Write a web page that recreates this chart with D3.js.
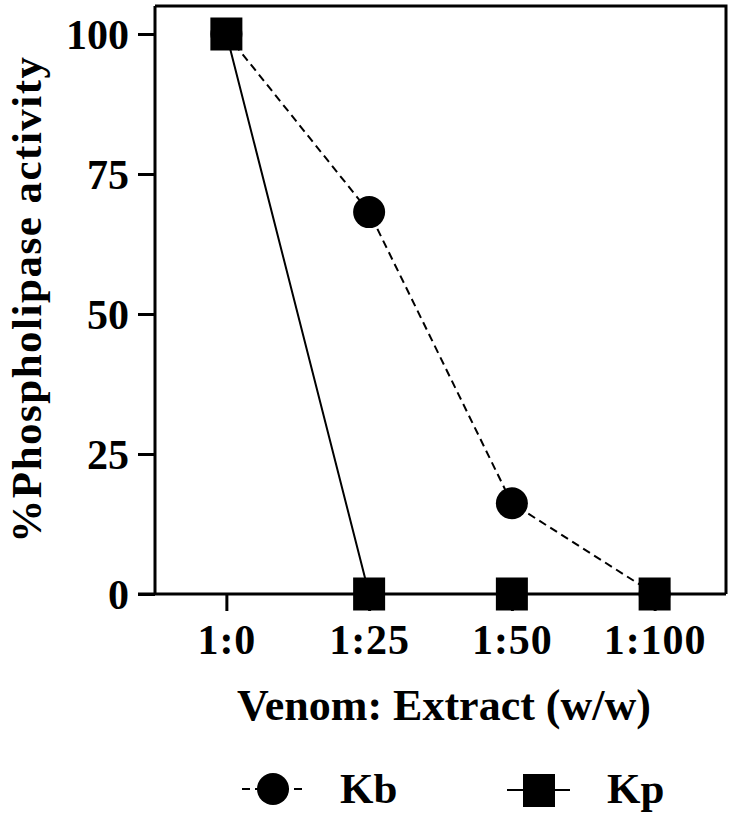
<!DOCTYPE html>
<html lang="en">
  <head>
    <meta charset="utf-8">
    <title>Phospholipase activity</title>
    <style>
      body { margin: 0; background: #fff; }
      text { font-family: "Liberation Serif", "Times New Roman", serif; font-weight: bold; fill: #000; }
    </style>
  </head>
  <body>
    <div id="chart"></div>
    <script src="https://cdn.jsdelivr.net/npm/d3@7"></script>
    <script type="text/javascript">
    (function(d3) {
      'use strict';

      var ratios = ['1:0', '1:25', '1:50', '1:100'];
      var kbValues = [100, 68.2, 16.2, 0];
      var kpValues = [100, 0, 0, 0];
      var yTicks = [0, 25, 50, 75, 100];

      var width = 733;
      var height = 821;
      var left = 155, right = 726, top = 6, bottom = 594;

      var svg = d3.select('#chart')
        .append('svg')
        .attr('width', width)
        .attr('height', height);

      var x = d3.scalePoint()
        .domain(ratios)
        .range([left, right])
        .padding(0.5);

      var y = d3.scaleLinear()
        .domain([0, 105])
        .range([bottom, top]);

      // frame (top and right sides)
      svg.append('path')
        .attr('d', 'M' + left + ',' + top + 'H' + right + 'V' + bottom)
        .attr('fill', 'none')
        .attr('stroke', '#000')
        .attr('stroke-width', 3);

      var yAxis = svg.append('g')
        .attr('transform', 'translate(' + left + ',0)')
        .call(d3.axisLeft(y).tickValues(yTicks).tickSize(17).tickPadding(9).tickSizeOuter(0));

      var xAxis = svg.append('g')
        .attr('transform', 'translate(0,' + bottom + ')')
        .call(d3.axisBottom(x).tickSize(17).tickPadding(13).tickSizeOuter(0));

      [yAxis, xAxis].forEach(function(g) {
        g.select('.domain').attr('stroke-width', 3);
        g.selectAll('.tick line').attr('stroke-width', 3);
        g.selectAll('text')
          .style('font-family', '"Liberation Serif", serif')
          .style('font-weight', 'bold')
          .style('font-size', '42px');
      });
      yAxis.selectAll('text').attr('dy', '0.34em');
      xAxis.selectAll('text').attr('dy', '0.71em').style('letter-spacing', '1px');
      // extend domain lines so the frame closes
      yAxis.select('.domain').attr('d', 'M0,' + top + 'V' + bottom);
      xAxis.select('.domain').attr('d', 'M' + (left - 17) + ',0H' + right);

      var line = d3.line()
        .x(function(d, i) { return x(ratios[i]); })
        .y(function(d) { return y(d); });

      svg.append('path')
        .datum(kbValues)
        .attr('d', line)
        .attr('fill', 'none')
        .attr('stroke', '#000')
        .attr('stroke-width', 2)
        .attr('stroke-dasharray', '8,5');

      svg.append('path')
        .datum(kpValues)
        .attr('d', line)
        .attr('fill', 'none')
        .attr('stroke', '#000')
        .attr('stroke-width', 2);

      svg.selectAll('circle.kb')
        .data(kbValues)
        .enter()
        .append('circle')
        .attr('class', 'kb')
        .attr('cx', function(d, i) { return x(ratios[i]); })
        .attr('cy', function(d) { return y(d); })
        .attr('r', 16)
        .attr('fill', '#000');

      svg.selectAll('rect.kp')
        .data(kpValues)
        .enter()
        .append('rect')
        .attr('class', 'kp')
        .attr('x', function(d, i) { return x(ratios[i]) - 16; })
        .attr('y', function(d) { return y(d) - 16.5; })
        .attr('width', 32)
        .attr('height', 33)
        .attr('fill', '#000');

      // axis titles
      svg.append('text')
        .attr('x', 444)
        .attr('y', 720)
        .attr('text-anchor', 'middle')
        .style('font-size', '44px')
        .text('Venom: Extract (w/w)');

      svg.append('text')
        .attr('transform', 'translate(41,299) rotate(-90)')
        .attr('text-anchor', 'middle')
        .style('font-size', '43px')
        .style('letter-spacing', '1.5px')
        .text('%Phospholipase activity');

      // legend
      var legend = svg.append('g');
      legend.append('line')
        .attr('x1', 242).attr('x2', 305).attr('y1', 789).attr('y2', 789)
        .attr('stroke', '#000').attr('stroke-width', 2).attr('stroke-dasharray', '8,5');
      legend.append('circle')
        .attr('cx', 273).attr('cy', 789).attr('r', 16).attr('fill', '#000');
      legend.append('text')
        .attr('x', 340).attr('y', 803)
        .style('font-size', '43px')
        .text('Kb');

      legend.append('line')
        .attr('x1', 507).attr('x2', 570).attr('y1', 790).attr('y2', 790)
        .attr('stroke', '#000').attr('stroke-width', 2);
      legend.append('rect')
        .attr('x', 523).attr('y', 774).attr('width', 32).attr('height', 33).attr('fill', '#000');
      legend.append('text')
        .attr('x', 607).attr('y', 803)
        .style('font-size', '43px')
        .text('Kp');

    })(window.d3);
    </script>
  </body>
</html>
